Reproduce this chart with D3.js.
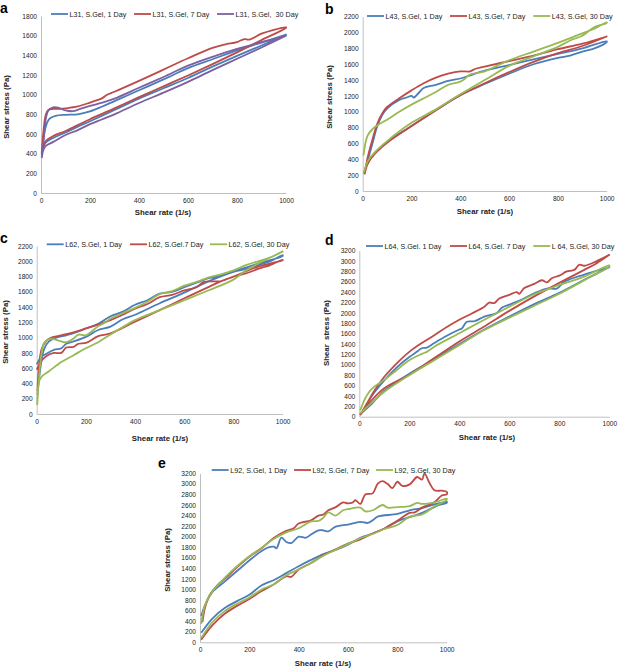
<!DOCTYPE html>
<html><head><meta charset="utf-8">
<script src="https://cdn.jsdelivr.net/npm/d3@7"></script>
<style>body{margin:0;background:#fff}</style></head>
<body><svg id="chart" width="620" height="669"></svg>
<script>
// ---------- data ----------
const rateTicks = [0, 200, 400, 600, 800, 1000];
const aTicks = [0, 200, 400, 600, 800, 1000, 1200, 1400, 1600, 1800];
const bTicks = [0, 200, 400, 600, 800, 1000, 1200, 1400, 1600, 1800, 2000, 2200];
const cTicks = [0, 200, 400, 600, 800, 1000, 1200, 1400, 1600, 1800, 2000, 2200];
const dTicks = [0, 200, 400, 600, 800, 1000, 1200, 1400, 1600, 1800, 2000, 2200, 2400, 2600, 2800, 3000, 3200];
const eTicks = dTicks;

const aLabels = ["L31, S.Gel, 1 Day", "L31, S.Gel, 7 Day", "L31, S.Gel,  30 Day"];
const bLabels = ["L43, S.Gel, 1 Day", "L43, S.Gel, 7 Day", "L43, S.Gel, 30 Day"];
const cLabels = ["L62, S.Gel, 1 Day", "L62, S.Gel.7 Day", "L62, S.Gel, 30 Day"];
const dLabels = ["L64, S.Gel. 1 Day", "L64, S.Gel. 7 Day", "L 64, S.Gel, 30 Day"];
const eLabels = ["L92, S.Gel, 1 Day", "L92, S.Gel, 7 Day", "L92, S.Gel, 30 Day"];

// panel a (L31): [shear rate, shear stress]
const a1Up = [[3,390],[10,550],[20,680],[30,740],[40,765],[60,785],[100,795],[150,800],[200,830],[250,880],[300,935],[400,1045],[500,1155],[600,1270],[700,1360],[800,1450],[900,1530],[1000,1610]];
const a1Down = [[1000,1610],[900,1500],[800,1395],[700,1285],[600,1170],[500,1065],[400,960],[300,845],[200,730],[150,675],[100,615],[50,560],[20,515],[10,470],[3,380]];
const a7Up = [[3,400],[10,630],[20,800],[30,845],[50,855],[80,855],[100,860],[150,880],[200,920],[250,965],[270,1000],[300,1030],[400,1140],[500,1255],[600,1370],[700,1475],[750,1510],[800,1535],[830,1565],[850,1560],[900,1620],[950,1660],[1000,1685]];
const a7Down = [[1000,1680],[900,1555],[800,1430],[700,1310],[600,1195],[500,1085],[400,975],[300,860],[200,750],[150,690],[100,630],[50,580],[20,530],[10,480],[3,400]];
const a30Up = [[3,360],[10,520],[20,760],[30,840],[50,872],[70,868],[100,840],[130,832],[160,855],[200,885],[250,920],[300,960],[400,1070],[500,1180],[600,1295],[700,1385],[800,1465],[850,1500],[900,1535],[950,1565],[1000,1600]];
const a30Down = [[1000,1600],[900,1480],[800,1365],[700,1250],[600,1130],[500,1020],[400,915],[300,800],[250,750],[200,700],[150,640],[100,590],[50,520],[20,480],[10,440],[3,355]];

// panel b (L43)
const b1Up = [[5,220],[20,380],[40,600],[60,820],[80,960],[100,1040],[150,1150],[180,1180],[200,1200],[210,1180],[230,1240],[250,1300],[300,1340],[350,1390],[400,1420],[440,1460],[500,1520],[600,1590],[700,1660],[800,1730],[900,1800],[1000,1890]];
const b1Down = [[1000,1880],[950,1800],[900,1760],[850,1710],[800,1680],[700,1600],[600,1480],[500,1350],[400,1210],[300,1020],[200,820],[100,620],[50,480],[20,350],[5,220]];
const b7Up = [[8,210],[20,420],[40,650],[60,850],[80,980],[100,1060],[150,1170],[200,1270],[250,1360],[300,1430],[350,1480],[400,1510],[440,1510],[460,1540],[500,1570],[600,1640],[700,1710],[800,1790],[900,1860],[1000,1950]];
const b7Down = [[1000,1950],[900,1830],[800,1740],[700,1630],[600,1500],[500,1360],[400,1210],[300,1020],[200,820],[100,610],[50,470],[20,340],[8,210]];
const b30Up = [[3,450],[20,700],[40,780],[60,830],[100,900],[150,1000],[200,1090],[250,1170],[300,1250],[350,1340],[400,1380],[420,1420],[440,1470],[500,1510],[550,1580],[600,1650],[700,1760],[800,1870],[900,1990],[950,2050],[1000,2130]];
const b30Down = [[1000,2120],[950,2070],[900,1960],[850,1900],[800,1820],[700,1700],[600,1580],[500,1400],[400,1220],[300,1030],[200,860],[100,630],[50,490],[20,370],[5,230]];

// panel c (L62)
const c1Up = [[3,250],[15,600],[30,850],[50,950],[80,1000],[100,1015],[150,1060],[200,1120],[250,1180],[300,1280],[350,1340],[400,1430],[450,1490],[500,1575],[550,1600],[600,1660],[650,1720],[700,1780],[750,1810],[800,1860],[850,1900],[900,1950],[950,2000],[1000,2080]];
const c1Down = [[1000,2070],[900,1970],[800,1865],[700,1740],[600,1590],[500,1450],[400,1300],[350,1240],[300,1145],[250,1100],[200,1010],[150,950],[120,920],[100,860],[70,840],[40,790],[20,750],[0,650]];
const c7Up = [[3,300],[20,850],[40,960],[60,1000],[100,1030],[150,1070],[200,1120],[250,1170],[300,1230],[350,1300],[400,1380],[450,1440],[500,1530],[550,1560],[600,1620],[650,1660],[680,1730],[750,1740],[800,1800],[850,1840],[900,1900],[950,1950],[1000,2020]];
const c7Down = [[1000,2015],[900,1930],[800,1800],[750,1740],[700,1665],[600,1515],[500,1360],[400,1210],[300,1055],[250,1020],[200,930],[170,920],[150,880],[120,870],[100,800],[70,800],[40,760],[20,700],[0,580]];
const c30Up = [[2,120],[10,500],[20,800],[30,930],[50,980],[70,980],[100,950],[120,940],[150,990],[170,1040],[200,1030],[250,1150],[280,1200],[300,1250],[350,1320],[400,1390],[450,1470],[500,1570],[550,1610],[600,1680],[650,1730],[700,1790],[750,1830],[800,1880],[850,1950],[900,2000],[950,2050],[1000,2130]];
const c30Down = [[1000,2130],[950,2050],[900,1970],[850,1880],[800,1760],[700,1620],[600,1490],[500,1360],[400,1230],[300,1040],[260,960],[250,940],[200,860],[150,770],[100,680],[50,560],[20,490],[10,430],[2,150]];

// panel d (L64)
const d1Up = [[3,50],[20,150],[50,400],[100,700],[150,950],[200,1150],[230,1250],[250,1320],[270,1330],[300,1420],[350,1560],[400,1680],[410,1700],[430,1830],[460,1840],[500,1930],[550,2000],[570,2100],[600,2160],[650,2260],[700,2380],[750,2470],[790,2470],[820,2600],[900,2740],[1000,2880]];
const d1Down = [[1000,2880],[900,2640],[800,2390],[700,2170],[600,1930],[500,1680],[400,1400],[300,1110],[200,830],[100,500],[50,250],[3,50]];
const d7Up = [[3,30],[30,250],[60,500],[100,770],[150,1030],[200,1250],[250,1420],[300,1570],[350,1730],[400,1870],[450,1990],[500,2120],[520,2200],[540,2190],[560,2280],[600,2350],[630,2400],[640,2370],[660,2480],[700,2560],[730,2630],[750,2590],[770,2670],[800,2720],[830,2800],[860,2830],[880,2930],[900,2910],[950,3000],[1000,3120]];
const d7Down = [[1000,3120],[950,2960],[900,2830],[800,2580],[700,2320],[600,2040],[500,1740],[400,1450],[300,1130],[200,810],[100,550],[50,320],[3,30]];
const d30Up = [[3,120],[10,200],[20,320],[40,480],[60,580],[100,710],[150,900],[200,1090],[250,1210],[270,1250],[300,1350],[400,1610],[500,1870],[600,2120],[700,2360],[800,2540],[900,2700],[1000,2920]];
const d30Down = [[1000,2900],[900,2630],[800,2370],[700,2140],[600,1910],[500,1670],[400,1380],[300,1090],[200,800],[100,480],[50,270],[3,60]];

// panel e (L92)
const e1Up = [[5,500],[20,700],[50,950],[100,1150],[150,1350],[200,1550],[250,1730],[280,1800],[300,1810],[310,1780],[330,1980],[350,1900],[370,1880],[400,2000],[430,1980],[450,2040],[480,2120],[500,2120],[520,2100],[550,2190],[600,2230],[650,2280],[680,2260],[700,2310],[720,2380],[800,2430],[850,2500],[900,2540],[950,2610],[1000,2660]];
const e1Down = [[1000,2640],[970,2600],[950,2560],[900,2450],[850,2370],[800,2290],[750,2160],[700,2060],[650,1980],[600,1850],[550,1750],[500,1670],[450,1560],[400,1440],[350,1310],[300,1180],[250,1080],[200,900],[150,780],[100,650],[50,450],[5,180]];
const e7Up = [[10,380],[20,650],[40,900],[70,1080],[100,1200],[150,1420],[200,1620],[250,1780],[300,1980],[350,2110],[380,2160],[400,2250],[450,2310],[480,2400],[500,2420],[520,2500],[550,2560],[580,2650],[600,2630],[620,2650],[630,2690],[650,2620],[670,2800],[700,2820],[720,3000],[740,3050],[760,3000],[780,2920],[800,3040],[820,2960],[850,2990],[880,3130],[900,3080],[910,3200],[930,3020],[950,2880],[980,2870],[1000,2850]];
const e7Down = [[1000,2800],[980,2780],[950,2650],[900,2550],[870,2460],[850,2450],[800,2300],[750,2160],[700,2060],[650,1950],[600,1870],[550,1760],[500,1650],[450,1500],[400,1380],[370,1240],[350,1250],[300,1100],[250,970],[200,820],[150,690],[100,540],[50,320],[5,50]];
const e30Up = [[5,350],[20,700],[50,960],[100,1220],[150,1440],[200,1630],[250,1790],[300,1960],[350,2080],[400,2160],[450,2290],[480,2300],[500,2360],[520,2460],[550,2400],[580,2500],[600,2520],[650,2550],[670,2480],[700,2500],[740,2600],[760,2550],[800,2560],[850,2580],[880,2640],[900,2620],[950,2650],[1000,2720]];
const e30Down = [[1000,2700],[970,2620],[950,2570],[900,2420],[850,2380],[800,2220],[750,2150],[700,2050],[650,1970],[600,1860],[550,1750],[500,1640],[450,1500],[400,1380],[350,1270],[300,1100],[250,1000],[200,850],[150,730],[100,590],[50,380],[5,80]];

// ---------- drawing ----------
const colBlue = "#4a7ebb", colRed = "#be4b48", colGreen = "#98b954", colPurple = "#7d60a0";

const panels = [
  {letter:"a", lx:0, ly:13, left:41, right:286, top:16, bottom:193, yMax:1800, ticks:aTicks, labels:aLabels,
   series:[[a1Up,a1Down,colBlue],[a7Up,a7Down,colRed],[a30Up,a30Down,colPurple]],
   legY:14, legX:[51,134,217], ytX:8.5, ytY:107, xtX:163, xtY:215, ytText:"Shear stress (Pa)"},
  {letter:"b", lx:325, ly:14, left:362.7, right:606.7, top:16.7, bottom:191, yMax:2200, ticks:bTicks, labels:bLabels,
   series:[[b1Up,b1Down,colBlue],[b7Up,b7Down,colRed],[b30Up,b30Down,colGreen]],
   legY:16, legX:[367,450,533.3], ytX:332, ytY:97, xtX:485, xtY:214, ytText:"Shear stress (Pa)"},
  {letter:"c", lx:0, ly:243, left:36.7, right:282.7, top:246, bottom:414, yMax:2200, ticks:cTicks, labels:cLabels,
   series:[[c1Up,c1Down,colBlue],[c7Up,c7Down,colRed],[c30Up,c30Down,colGreen]],
   legY:244.3, legX:[46.7,130,210], ytX:8, ytY:332, xtX:160, xtY:441, ytText:"Shear stress (Pa)"},
  {letter:"d", lx:325, ly:245, left:359.3, right:609.3, top:250.7, bottom:416.7, yMax:3200, ticks:dTicks, labels:dLabels,
   series:[[d1Up,d1Down,colBlue],[d7Up,d7Down,colRed],[d30Up,d30Down,colGreen]],
   legY:246, legX:[366,450,533.3], ytX:329, ytY:333, xtX:487, xtY:440, ytText:"Shear  stress (Pa)"},
  {letter:"e", lx:158, ly:468, left:200, right:446.7, top:473.3, bottom:642.3, yMax:3200, ticks:eTicks, labels:eLabels,
   series:[[e1Up,e1Down,colBlue],[e7Up,e7Down,colRed],[e30Up,e30Down,colGreen]],
   legY:470, legX:[211.7,294,376], ytX:170, ytY:560, xtX:323, xtY:666, ytText:"Shear stress (Pa)"}
];

const svg = d3.select("#chart");
const font = "'Liberation Sans', Arial, sans-serif";

panels.forEach(p => {
  const g = svg.append("g");
  const x = d3.scaleLinear().domain([0, 1000]).range([p.left, p.right]);
  const y = d3.scaleLinear().domain([0, p.yMax]).range([p.bottom, p.top]);

  const yAxis = d3.axisLeft(y).tickValues(p.ticks).tickSize(0).tickPadding(4).tickFormat(d3.format("d"));
  const xAxis = d3.axisBottom(x).tickValues(rateTicks).tickSize(0).tickPadding(5).tickFormat(d3.format("d"));
  const ya = g.append("g").attr("transform", `translate(${p.left},0)`).call(yAxis);
  const xa = g.append("g").attr("transform", `translate(0,${p.bottom})`).call(xAxis);
  [ya, xa].forEach(a => {
    a.select(".domain").attr("stroke", "#c0c0c0").attr("stroke-width", 1);
    a.selectAll("text").attr("font-family", font).attr("font-size", 6.6).attr("fill", "#222");
  });

  const line = d3.line().x(d => x(d[0])).y(d => y(d[1])).curve(d3.curveCatmullRom.alpha(0.5));
  p.series.forEach(s => {
    const pts = s[0].concat(s[1]);
    g.append("path").attr("d", line(pts)).attr("fill", "none")
      .attr("stroke", s[2]).attr("stroke-width", 1.8).attr("stroke-linejoin", "round");
  });

  p.labels.forEach((lab, i) => {
    const lx = p.legX[i];
    g.append("line").attr("x1", lx).attr("x2", lx + 17).attr("y1", p.legY).attr("y2", p.legY)
      .attr("stroke", p.series[i][2]).attr("stroke-width", 1.8);
    g.append("text").attr("x", lx + 18.5).attr("y", p.legY + 2.5).text(lab)
      .attr("font-family", font).attr("font-size", 7.2).attr("fill", "#222")
      .style("white-space", "pre");
  });

  g.append("text").attr("transform", `translate(${p.ytX},${p.ytY}) rotate(-90)`)
    .attr("text-anchor", "middle").text(p.ytText).style("white-space", "pre")
    .attr("font-family", font).attr("font-size", 7.8).attr("font-weight", "bold").attr("fill", "#222");
  g.append("text").attr("x", p.xtX).attr("y", p.xtY).attr("text-anchor", "middle").text("Shear rate (1/s)")
    .attr("font-family", font).attr("font-size", 7.8).attr("font-weight", "bold").attr("fill", "#222");

  g.append("text").attr("x", p.lx).attr("y", p.ly).text(p.letter)
    .attr("font-family", font).attr("font-size", 14).attr("font-weight", "bold").attr("fill", "#000");
});
</script>
</body></html>
